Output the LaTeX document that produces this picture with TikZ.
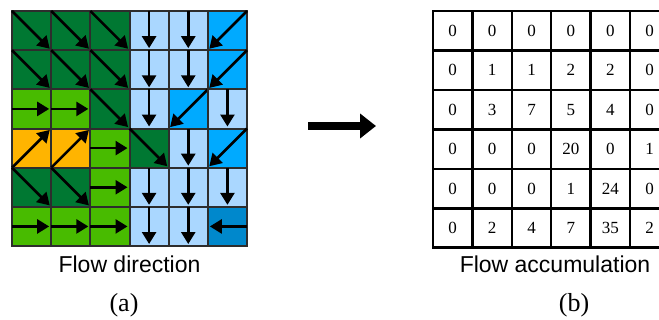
\documentclass[tikz,border=0pt]{standalone}
\usepackage{fontspec}
\newfontfamily\sansletra{Liberation Sans}
\newfontfamily\serifletra{Liberation Serif}
\usetikzlibrary{arrows.meta}
\definecolor{verdeoscuro}{RGB}{0,120,50}
\definecolor{verdecito}{RGB}{72,187,0}
\definecolor{naranjita}{RGB}{255,180,0}
\definecolor{celestito}{RGB}{170,215,255}
\definecolor{azulcito}{RGB}{0,170,255}
\definecolor{azuloscuro}{RGB}{0,136,204}
\definecolor{grisito}{RGB}{45,45,45}
\newcommand{\lado}{39.17}
% de donde a donde va la flecha en cada celda
\newcommand{\desdeSE}{north west}\newcommand{\hastaSE}{south east}
\newcommand{\desdeS}{north}\newcommand{\hastaS}{south}
\newcommand{\desdeE}{west}\newcommand{\hastaE}{east}
\newcommand{\desdeNE}{south west}\newcommand{\hastaNE}{north east}
\newcommand{\desdeSW}{north east}\newcommand{\hastaSW}{south west}
\newcommand{\desdeW}{east}\newcommand{\hastaW}{west}
\tikzset{
  celda/.style={draw=grisito, line width=2pt, minimum size=\lado pt, inner sep=0pt, outer sep=0pt},
  dSE/.style={celda, fill=verdeoscuro},
  dS/.style={celda, fill=celestito},
  dE/.style={celda, fill=verdecito},
  dNE/.style={celda, fill=naranjita},
  dSW/.style={celda, fill=azulcito},
  dW/.style={celda, fill=azuloscuro},
  flecha/.style={-{Triangle[length=12pt,width=14pt]}, line width=2.6pt, shorten >=2pt},
  numero/.style={draw=black, line width=2.5pt, minimum size=39.4pt, inner sep=0pt, outer sep=0pt, font=\serifletra\fontsize{17}{20}\selectfont},
  leyenda/.style={anchor=base, font=\sansletra\fontsize{23}{28}\selectfont},
  letra/.style={anchor=base, font=\serifletra\fontsize{26}{30}\selectfont},
  flechota/.style={line width=8pt, -{Triangle[length=16pt,width=24pt]}}
}

\begin{document}
\begin{tikzpicture}[x=1pt,y=-1pt]
	\clip (0,0) rectangle (659,320);

	% direcciones de flujo
	\foreach \fila [count=\r] in {{SE,SE,SE,S,S,SW},{SE,SE,SE,S,S,SW},{E,E,SE,S,SW,S},{NE,NE,E,SE,S,SW},{SE,SE,E,S,S,S},{E,E,E,S,S,W}} {
		\foreach \d [count=\c] in \fila {
			\node[d\d] (f-\r-\c) at ({12+\lado*(\c-0.5)},{11+\lado*(\r-0.5)}) {};
			\edef\ini{\csname desde\d\endcsname}
			\edef\fin{\csname hasta\d\endcsname}
			\draw[flecha] (f-\r-\c.\ini) -- (f-\r-\c.\fin);
		}
	}
	\node[leyenda] (tit-a) at (129.5,273) {Flow direction};
	\node[letra] (let-a) at (124,312) {(a)};

	\coordinate (ini-f) at (308,126);
	\coordinate (fin-f) at (376,126);
	\draw[flechota] (ini-f) -- (fin-f);

	% acumulacion
	\foreach \fila [count=\r] in {{0,0,0,0,0,0},{0,1,1,2,2,0},{0,3,7,5,4,0},{0,0,0,20,0,1},{0,0,0,1,24,0},{0,2,4,7,35,2}} {
		\foreach \v [count=\c] in \fila {
			\node[numero] (a-\r-\c) at ({433+39.4*(\c-0.5)},{11+39.45*(\r-0.5)}) {\v};
		}
	}
	\node[leyenda] (tit-b) at (555,273) {Flow accumulation};
	\node[letra] (let-b) at (574,312) {(b)};

\end{tikzpicture}
\end{document}
